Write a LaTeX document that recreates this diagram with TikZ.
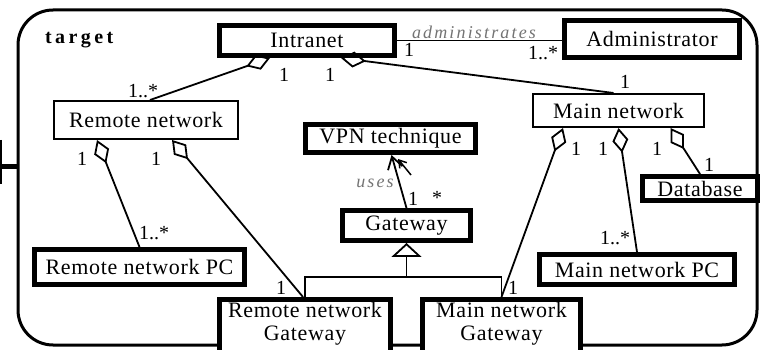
\documentclass[tikz,border=0pt]{standalone}
\usepackage{fontspec}
\setmainfont{Liberation Serif}
\usetikzlibrary{arrows.meta}

\tikzset{
  boxfont/.style={font=\fontsize{22}{23}\selectfont\addfontfeatures{LetterSpace=3}},
  thickbox/.style={draw, fill=white, line width=5pt, inner sep=0pt, boxfont},
  thinbox/.style={draw, fill=white, line width=2pt, inner sep=0pt, boxfont},
  conn/.style={line width=1.8pt},
  agg/.style={conn, {Diamond[open, length=25pt, width=16pt, line width=1.8pt]}-},
  mult/.style={inner sep=0pt, font=\fontsize{20}{20}\selectfont},
  assoclabel/.style={inner sep=0pt, text=black!55,
    font=\fontsize{18}{18}\selectfont\itshape\addfontfeatures{LetterSpace=12}},
}

\begin{document}
\begin{tikzpicture}[x=1pt, y=-1pt]
\useasboundingbox (0,0) rectangle (764,350);

% package frame and the stub on its left side
\draw[line width=3pt, rounded corners=35pt] (18,10) rectangle (757,345);
\coordinate (stubL) at (0,167);
\coordinate (stubR) at (18,167);
\draw[line width=5pt] (stubL) -- (stubR);
\draw[line width=2pt] (1,140) -- (1,184);
\node[inner sep=0pt, anchor=west, font=\fontsize{20}{20}\selectfont\bfseries\addfontfeatures{LetterSpace=17}]
  (pkgname) at (45,40) {target};

% classes
\node[thickbox, minimum width=175pt, minimum height=30pt] (intranet) at (307,40.5) {Intranet};
\node[thickbox, minimum width=175pt, minimum height=37pt] (admin) at (652,39) {Administrator};
\node[thinbox, minimum width=184pt, minimum height=38pt] (remote) at (146,120) {Remote network};
\node[thinbox, minimum width=171pt, minimum height=33pt] (main) at (618.5,110.5) {Main network};
\node[thickbox, minimum width=170pt, minimum height=28pt] (vpn) at (390.5,138.5) {VPN technique};
\node[thickbox, minimum width=128pt, minimum height=30pt] (gateway) at (406.5,225.5) {Gateway};
\node[thickbox, minimum width=210pt, minimum height=35pt] (rpc) at (139.5,267) {Remote network PC};
\node[thickbox, minimum width=171pt, minimum height=60pt] (rgw) at (305,329.5) {};
\node[inner sep=0pt, align=center, boxfont] (rgwtext) at (305,324) {Remote network\\Gateway};
\node[thickbox, minimum width=158pt, minimum height=60pt] (mgw) at (501.5,329.5) {};
\node[inner sep=0pt, align=center, boxfont] (mgwtext) at (501.5,324) {Main network\\Gateway};
\node[thickbox, minimum width=195pt, minimum height=30pt] (mpc) at (637,269.5) {Main network PC};
\node[thickbox, minimum width=115pt, minimum height=24pt] (db) at (700,188.5) {Database};

% association Intranet -- Administrator
\draw[conn] (intranet.east) -- (intranet.east -| admin.west);
\node[assoclabel, anchor=south] (adminlbl) at (474,39) {administrates};
\node[mult] (madm1) at (409,50) {1};
\node[mult] (madm2) at (543,53) {1..*};

% aggregations
\draw[agg] ([xshift=-37pt]intranet.south) -- ([xshift=4pt]remote.north);
\draw[agg] ([xshift=34pt]intranet.south) -- ([xshift=-5pt]main.north);
\draw[agg] ([xshift=-49pt]remote.south) -- (rpc.north);
\draw[agg] ([xshift=26pt]remote.south) -- ([xshift=-2pt]rgw.north);
\draw[agg] ([xshift=-55.5pt]main.south) -- (mgw.north);
\draw[agg] (main.south) -- (mpc.north);
\draw[agg] ([xshift=52pt]main.south) -- (db.north);

\node[mult] (m1) at (284,75) {1};
\node[mult] (m2) at (143,91) {1..*};
\node[mult] (m3) at (330,75) {1};
\node[mult] (m4) at (625,82) {1};
\node[mult] (m5) at (82,159) {1};
\node[mult] (m6) at (156,159) {1};
\node[mult] (m7) at (154,233) {1..*};
\node[mult] (m8) at (281,288) {1};
\node[mult] (m9) at (576,149) {1};
\node[mult] (m10) at (603,149) {1};
\node[mult] (m11) at (657,149) {1};
\node[mult] (m12) at (709,165) {1};
\node[mult] (m13) at (615,238) {1..*};
\node[mult] (m14) at (513,288) {1};

% Gateway uses VPN technique
\draw[conn, -{Straight Barb[length=12pt, width=15pt, line width=1.8pt]}]
  (gateway.north) -- ([xshift=1pt]vpn.south);
\coordinate (dirA) at (411,175);
\coordinate (dirB) at (398,159);
\draw[line width=1.5pt, -{Straight Barb[length=7pt, width=9pt, line width=1.5pt]}] (dirA) -- (dirB);
\node[assoclabel] (useslbl) at (375,183) {uses};
\node[mult] (m15) at (413,199) {1};
\node[mult] (m16) at (437,198) {*};

% generalization of the two gateways
\coordinate (gsplit) at (406.5,277);
\draw[conn, {Triangle[open, length=14pt, width=30pt, line width=1.8pt]}-] (gateway.south) -- (gsplit);
\draw[conn] (rgw.north) -- (rgw.north |- gsplit) -- (mgw.north |- gsplit) -- (mgw.north);

\end{tikzpicture}
\end{document}
